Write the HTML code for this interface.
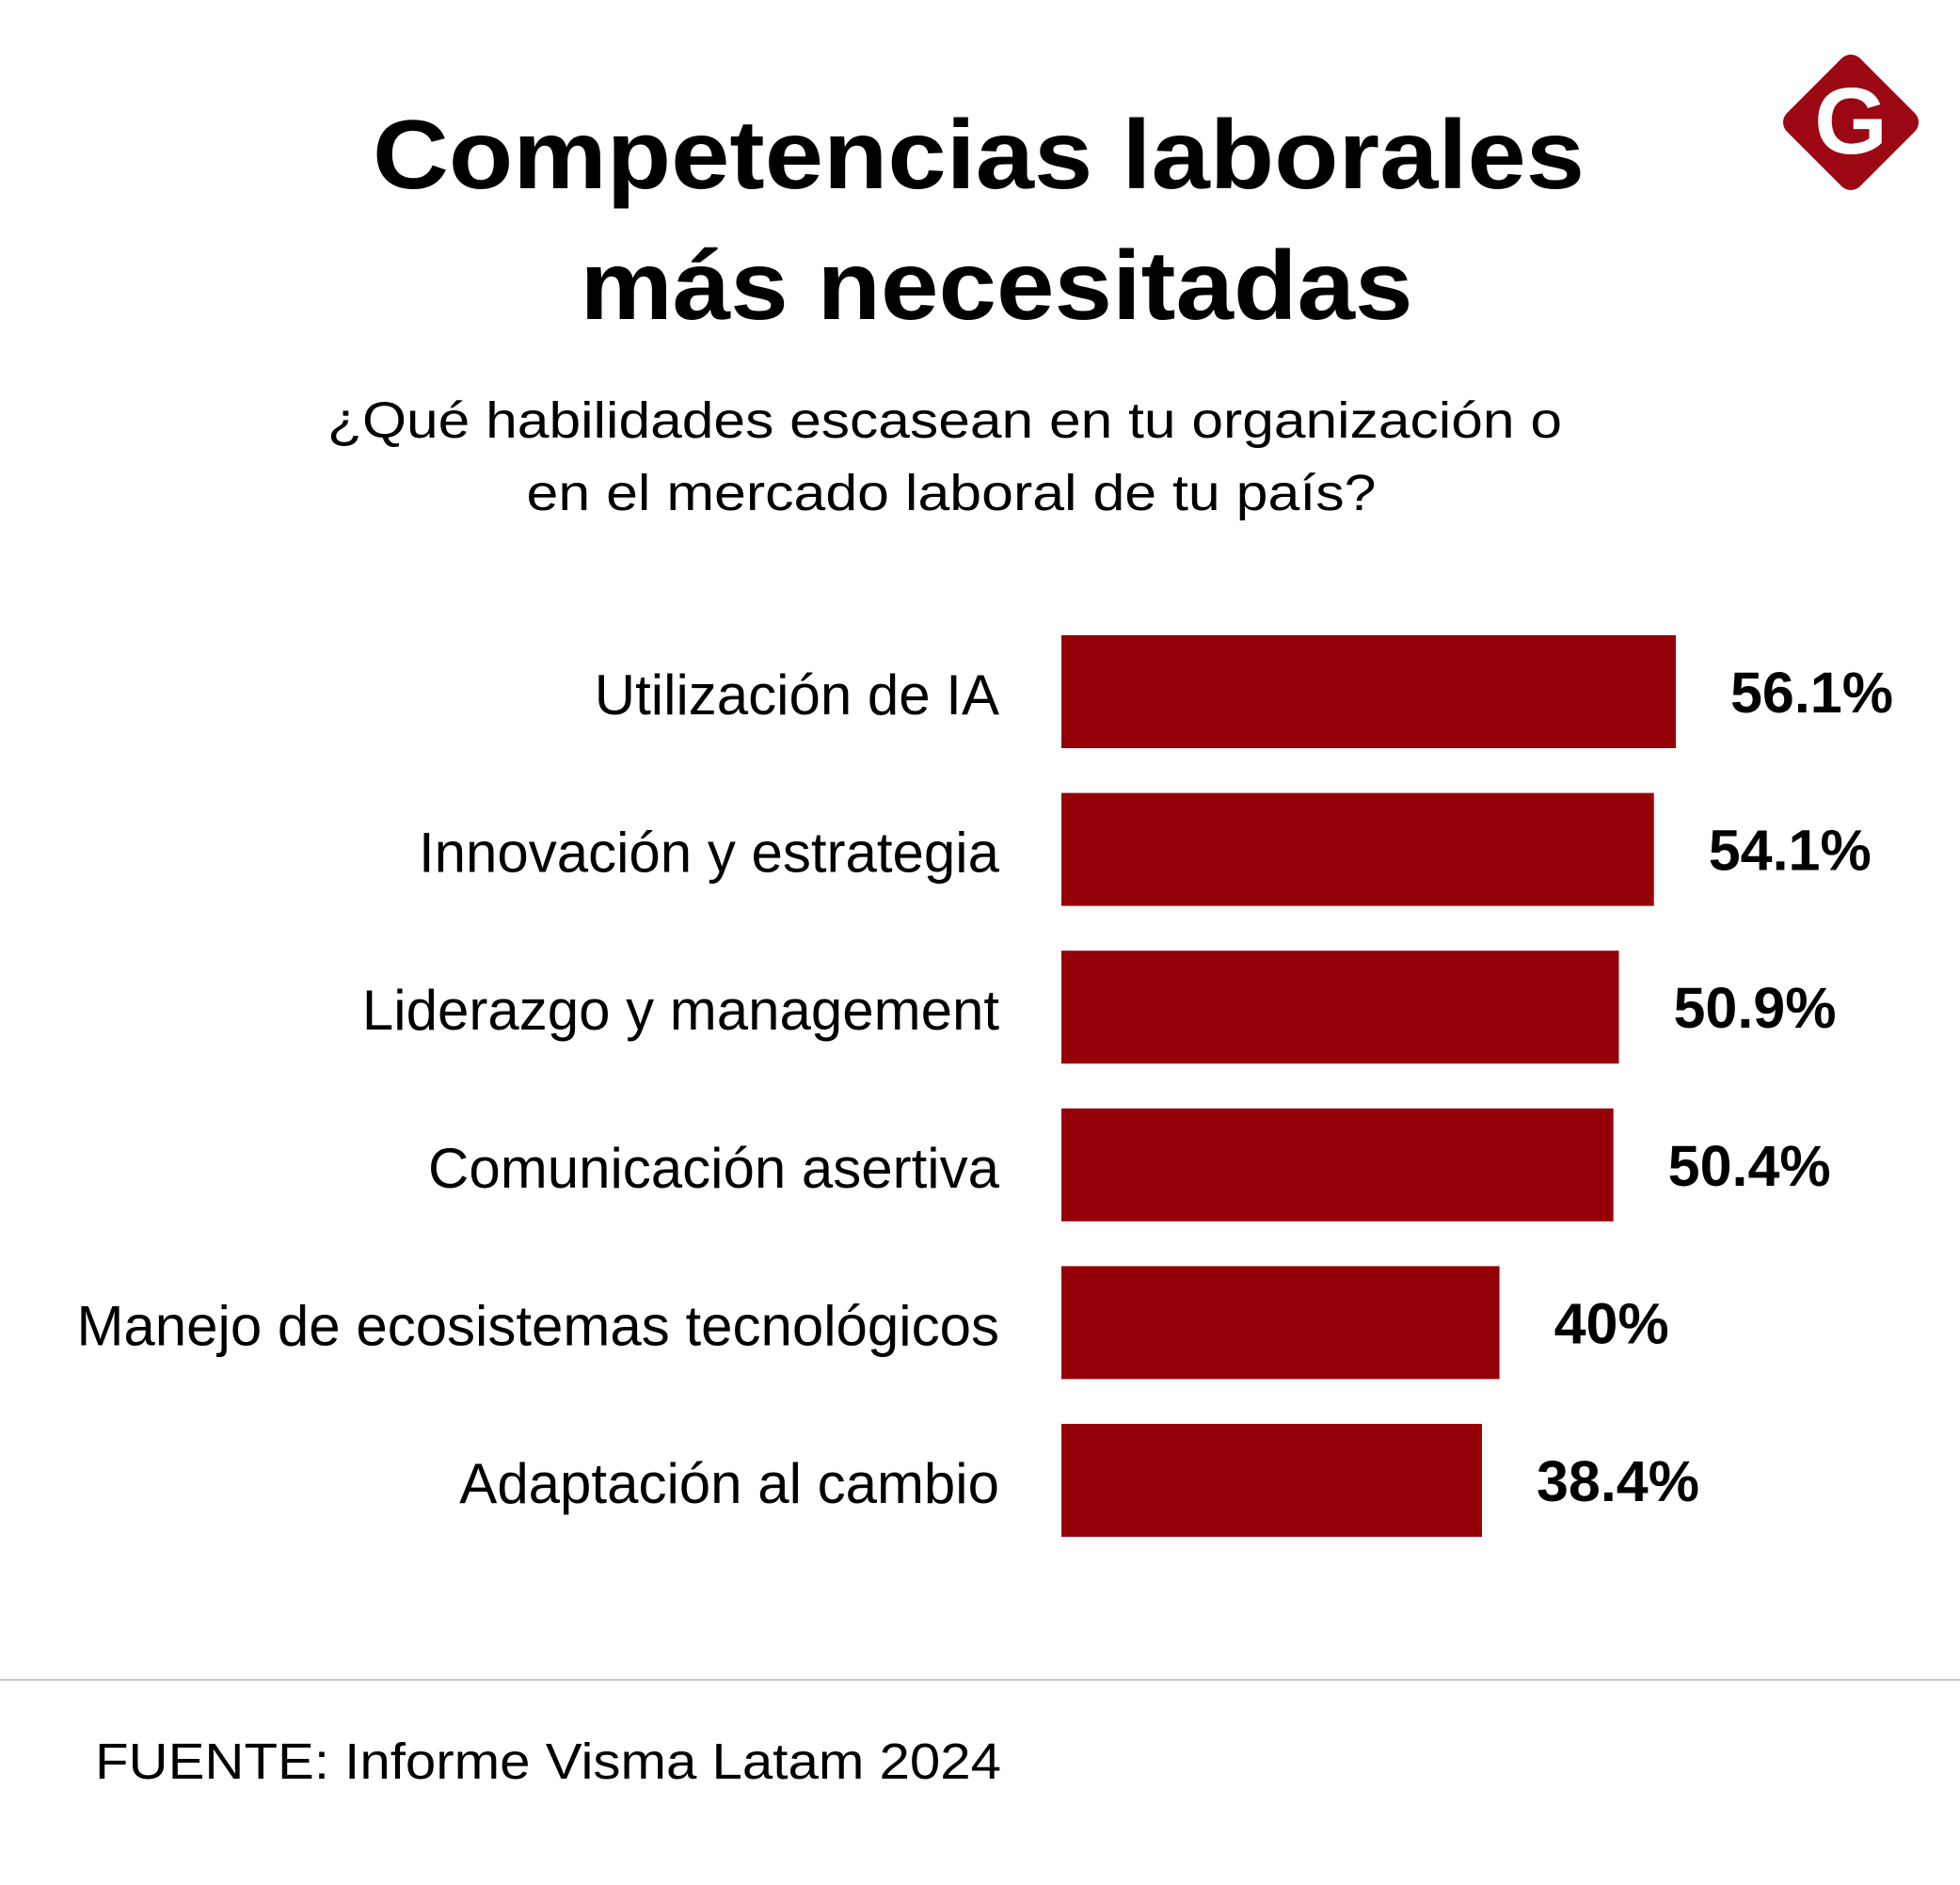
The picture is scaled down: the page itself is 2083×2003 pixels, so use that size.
<!DOCTYPE html>
<html><head><meta charset="utf-8"><style>
html,body{margin:0;padding:0;background:#fff;}
svg{display:block;}
text{font-family:"Liberation Sans",sans-serif;}
</style></head><body>
<svg id="chart" width="2083" height="2003" viewBox="0 0 2083 2003">
<g>
<rect x="1912" y="75" width="110" height="110" rx="14" fill="#9b0712" transform="rotate(45 1967 130)"/>
<text x="1967" y="163" text-anchor="middle" font-family="Liberation Serif,serif" font-weight="bold" font-size="100" fill="#fff">G</text>
</g>
<text x="1040" y="200" text-anchor="middle" font-weight="bold" font-size="104" textLength="1288" lengthAdjust="spacingAndGlyphs">Competencias laborales</text>
<text x="1059" y="339" text-anchor="middle" font-weight="bold" font-size="104" textLength="885" lengthAdjust="spacingAndGlyphs">más necesitadas</text>
<text x="1004" y="465" text-anchor="middle" font-size="54" textLength="1312" lengthAdjust="spacingAndGlyphs">¿Qué habilidades escasean en tu organización o</text>
<text x="1011" y="542" text-anchor="middle" font-size="54" textLength="903" lengthAdjust="spacingAndGlyphs">en el mercado laboral de tu país?</text>
<g id="bars"></g>
<line x1="0" y1="1785" x2="2083" y2="1785" stroke="#c8c8c8" stroke-width="2"/>
<text x="101" y="1890" font-size="54" textLength="963" lengthAdjust="spacingAndGlyphs">FUENTE: Informe Visma Latam 2024</text>
</svg>
<script>
const categories = ["Utilización de IA","Innovación y estrategia","Liderazgo y management","Comunicación asertiva","Manejo de ecosistemas tecnológicos","Adaptación al cambio"];
const values = [56.1,54.1,50.9,50.4,40,38.4];
const valueLabels = ["56.1%","54.1%","50.9%","50.4%","40%","38.4%"];

const NS="http://www.w3.org/2000/svg";
const x0=1128, pxPerUnit=11.64, top0=675, pitch=167.6, barH=120;
const xScale=v=>x0+v*pxPerUnit;
const yScale=i=>top0+i*pitch;
const g=document.getElementById('bars');
categories.forEach((c,i)=>{
  const y=yScale(i);
  const r=document.createElementNS(NS,'rect');
  r.setAttribute('x',x0);r.setAttribute('y',y);
  r.setAttribute('width',xScale(values[i])-x0);r.setAttribute('height',barH);
  r.setAttribute('fill','#950008');
  
  
  g.appendChild(r);
  const t=document.createElementNS(NS,'text');
  t.setAttribute('x',1062);t.setAttribute('y',y+barH/2+24);
  t.setAttribute('text-anchor','end');t.setAttribute('font-size','60');
  t.textContent=c;
  
  
  g.appendChild(t);
  const v=document.createElementNS(NS,'text');
  v.setAttribute('x',xScale(values[i])+58);v.setAttribute('y',y+barH/2+22);
  v.setAttribute('font-size','61');v.setAttribute('font-weight','bold');
  v.textContent=valueLabels[i];
  
  
  g.appendChild(v);
});
</script>
</body></html>
